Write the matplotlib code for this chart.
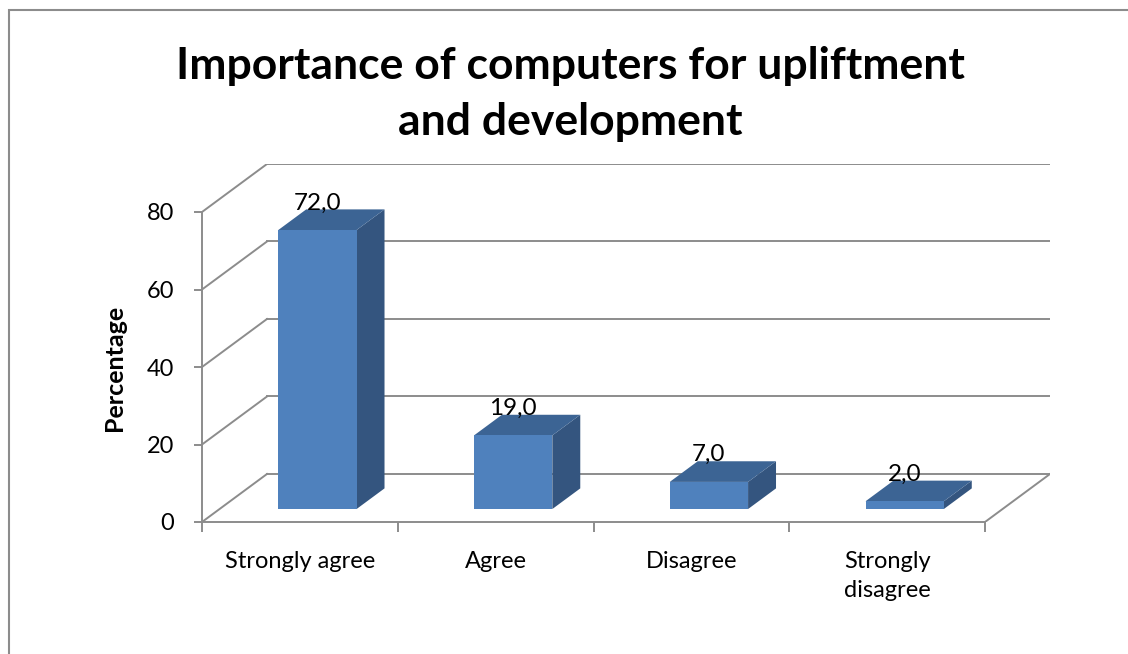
import matplotlib
matplotlib.use("Agg")
import matplotlib.pyplot as plt
from matplotlib.patches import Polygon, Rectangle

plt.rcParams['font.family'] = ['Lato', 'DejaVu Sans']

categories = ["Strongly agree", "Agree", "Disagree", "Strongly\ndisagree"]
percent = [72.0, 19.0, 7.0, 2.0]
yticks = [0, 20, 40, 60, 80]

# fake 3d: depth vector in data units, bars sit between depth f0 and f1
dx, dy = 0.332, 12.39
f0, f1 = 0.27, 0.70
bw = 0.4
grid_c = "#8c8c8c"
front_c, side_c, top_c = "#4f81bd", "#34557f", "#3c6494"

W, H = 1128, 654
fig = plt.figure(figsize=(W / 100, H / 100), dpi=100)

n = len(categories)
x0px, y0px = 202, 522
xscale = (985 - 202) / n
yscale = (522 - 212) / 80
xmax = n + dx
ymax = 80 + dy
ax = fig.add_axes([x0px / W, (H - y0px) / H, xmax * xscale / W, ymax * yscale / H])
ax.set_xlim(0, xmax)
ax.set_ylim(0, ymax)
ax.patch.set_visible(False)

# back wall gridlines and side wall diagonals
for v in yticks:
    ax.plot([dx, n + dx], [v + dy, v + dy], color=grid_c, lw=1.4, zorder=1)
    ax.plot([0, dx], [v, v + dy], color=grid_c, lw=1.4, zorder=1)
# floor right edge
ax.plot([n, n + dx], [0, dy], color=grid_c, lw=1.4, zorder=1)

for i, v in enumerate(percent):
    xa = i + 0.5 - bw / 2
    xb = i + 0.5 + bw / 2
    front = [(xa + f0 * dx, f0 * dy), (xb + f0 * dx, f0 * dy),
             (xb + f0 * dx, v + f0 * dy), (xa + f0 * dx, v + f0 * dy)]
    side = [(xb + f0 * dx, f0 * dy), (xb + f1 * dx, f1 * dy),
            (xb + f1 * dx, v + f1 * dy), (xb + f0 * dx, v + f0 * dy)]
    top = [(xa + f0 * dx, v + f0 * dy), (xb + f0 * dx, v + f0 * dy),
           (xb + f1 * dx, v + f1 * dy), (xa + f1 * dx, v + f1 * dy)]
    ax.add_patch(Polygon(side, closed=True, facecolor=side_c, edgecolor="none", zorder=3))
    ax.add_patch(Polygon(top, closed=True, facecolor=top_c, edgecolor="none", zorder=3))
    ax.add_patch(Polygon(front, closed=True, facecolor=front_c, edgecolor="none", zorder=3))
    ax.text(i + 0.5 + f0 * dx, v + f1 * dy, f"{v:.1f}".replace(".", ","),
            ha="center", va="baseline", fontsize=17.5, zorder=4)

for s in ["top", "right"]:
    ax.spines[s].set_visible(False)
ax.spines["left"].set_bounds(0, 80)
ax.spines["bottom"].set_bounds(0, n)
for s in ["left", "bottom"]:
    ax.spines[s].set_color(grid_c)
    ax.spines[s].set_linewidth(1.4)

ax.set_yticks(yticks)
ax.set_yticklabels([str(t) for t in yticks], fontsize=17)
ax.tick_params(axis="y", direction="out", length=6, width=1.4, color=grid_c, pad=14)
ax.set_xticks(range(n + 1))
ax.set_xticklabels([])
ax.tick_params(axis="x", direction="out", length=7, width=1.4, color=grid_c)
ax.set_xticks([i + 0.5 for i in range(n)], minor=True)
ax.set_xticklabels(categories, minor=True, fontsize=17, linespacing=1.45)
ax.tick_params(axis="x", which="minor", length=0, pad=21)

ax.set_ylabel("Percentage", fontsize=18, fontweight="bold")
ax.yaxis.set_label_coords(-(202 - 126) / (xmax * xscale), (522 - 368) / (ymax * yscale))

fig.text(570 / W, 1 - 94 / H, "Importance of computers for upliftment\nand development",
         ha="center", va="center", fontsize=32, fontweight="bold", linespacing=1.5)

# chart frame
fig.patches.append(Rectangle((9 / W, -0.1), 1.5, 1.1 - 10 / H, transform=fig.transFigure,
                             fill=False, edgecolor="#8c8c8c", lw=1.5))

fig.savefig("out.png", dpi=100)
